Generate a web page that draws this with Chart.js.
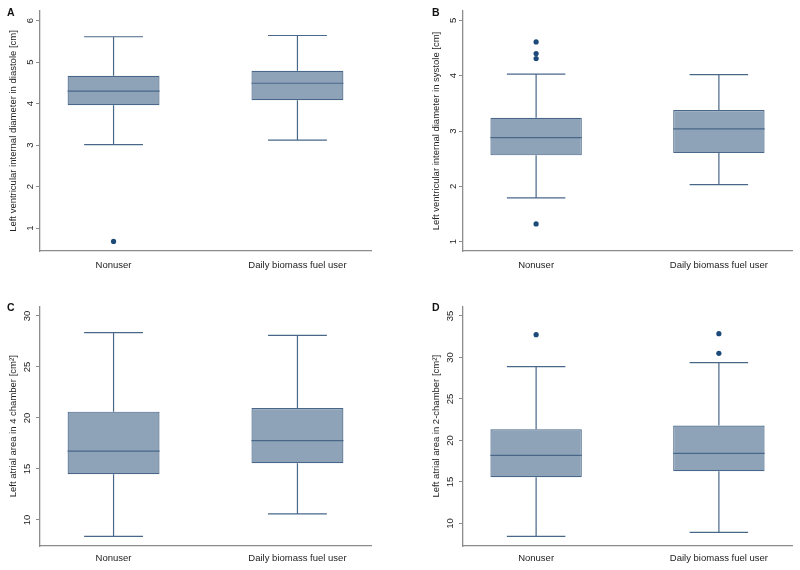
<!DOCTYPE html>
<html>
<head>
<meta charset="utf-8">
<script src="https://cdn.jsdelivr.net/npm/chart.js@4.4.1/dist/chart.umd.min.js"></script>
<style>
  body { margin: 0; background: #fff; }
  #wrap { position: relative; width: 800px; height: 570px; overflow: hidden; font-family: "Liberation Sans", Arial, sans-serif; }
  .panel { position: absolute; height: 285px; }
  .letter { position: absolute; font-weight: bold; font-size: 10.5px; line-height: 1; color: #111; }
</style>
</head>
<body>
<div id="wrap">
  <div class="panel" style="left:0;top:0;width:400px"><canvas id="chartA"></canvas></div>
  <div class="panel" style="left:423px;top:0;width:377px"><canvas id="chartB"></canvas></div>
  <div class="panel" style="left:0;top:285px;width:400px"><canvas id="chartC"></canvas></div>
  <div class="panel" style="left:423px;top:285px;width:377px"><canvas id="chartD"></canvas></div>
  <div class="letter" style="left:7px;top:7px">A</div>
  <div class="letter" style="left:432px;top:7px">B</div>
  <div class="letter" style="left:7px;top:302px">C</div>
  <div class="letter" style="left:432px;top:302px">D</div>
</div>
<script>
const categories = ['Nonuser', 'Daily biomass fuel user'];

// five-number summaries per group: [lower whisker, q1, median, q3, upper whisker]
const lviddNonuser = [3.01, 3.96, 4.30, 4.67, 5.61];
const lviddDaily = [3.12, 4.08, 4.49, 4.79, 5.64];
const lviddOutliers = [[0.68], []];
const lviddTicks = [1, 2, 3, 4, 5, 6];

const lvidsNonuser = [1.79, 2.56, 2.88, 3.24, 4.03];
const lvidsDaily = [2.03, 2.60, 3.04, 3.38, 4.02];
const lvidsOutliers = [[4.61, 4.40, 4.31, 1.32], []];
const lvidsTicks = [1, 2, 3, 4, 5];

const la4Nonuser = [8.4, 14.48, 16.76, 20.62, 28.37];
const la4Daily = [10.59, 15.56, 17.78, 20.98, 28.1];
const la4Outliers = [[], []];
const la4Ticks = [10, 15, 20, 25, 30];

const la2Nonuser = [8.45, 15.57, 18.21, 21.35, 28.9];
const la2Daily = [8.94, 16.29, 18.45, 21.8, 29.38];
const la2Outliers = [[32.75], [32.87, 30.5]];
const la2Ticks = [10, 15, 20, 25, 30, 35];

const boxFill = '#8ea3b8';
const boxLine = '#486789';
const dotColor = '#1d4a78';
const axisColor = '#8c8c8c';
const textColor = '#222';
const font = { family: '"Liberation Sans", Arial, sans-serif', size: 9.5 };

// whiskers under the box, median on top of it
const whiskerPlugin = {
    id: 'whiskers',
    beforeDatasetsDraw(chart) {
        const ds = chart.data.datasets[0];
        const meta = chart.getDatasetMeta(0);
        const y = chart.scales.y;
        const ctx = chart.ctx;
        ctx.save();
        ctx.strokeStyle = boxLine;
        ctx.lineWidth = 1.2;
        meta.data.forEach((bar, i) => {
            const s = ds.stats[i];
            const half = bar.width * 0.32;
            const yLo = y.getPixelForValue(s[0]);
            const yQ1 = y.getPixelForValue(s[1]);
            const yQ3 = y.getPixelForValue(s[3]);
            const yHi = y.getPixelForValue(s[4]);
            ctx.beginPath();
            ctx.moveTo(bar.x, yQ3); ctx.lineTo(bar.x, yHi);
            ctx.moveTo(bar.x, yQ1); ctx.lineTo(bar.x, yLo);
            ctx.moveTo(bar.x - half, yHi); ctx.lineTo(bar.x + half, yHi);
            ctx.moveTo(bar.x - half, yLo); ctx.lineTo(bar.x + half, yLo);
            ctx.stroke();
        });
        ctx.restore();
    },
    afterDatasetDraw(chart, args) {
        if (args.index !== 0) return;
        const ds = chart.data.datasets[0];
        const y = chart.scales.y;
        const ctx = chart.ctx;
        ctx.save();
        ctx.strokeStyle = boxLine;
        ctx.lineWidth = 1.2;
        args.meta.data.forEach((bar, i) => {
            const yMed = y.getPixelForValue(ds.stats[i][2]);
            ctx.beginPath();
            ctx.moveTo(bar.x - bar.width / 2, yMed);
            ctx.lineTo(bar.x + bar.width / 2, yMed);
            ctx.stroke();
        });
        ctx.restore();
    }
};

function makePanel(id, title, stats, outliers, ticks, yMin, yMax, lay) {
    new Chart(document.getElementById(id), {
        type: 'bar',
        data: {
            datasets: [{
                type: 'bar',
                data: stats.map((s, i) => ({ x: i + 1, y: [s[1], s[3]] })),
                stats: stats,
                backgroundColor: boxFill,
                borderColor: boxLine,
                borderWidth: 1.2,
                borderSkipped: false,
                categoryPercentage: 1,
                barPercentage: 0.5
            }, {
                type: 'scatter',
                data: outliers.flatMap((list, i) => list.map(v => ({ x: i + 1, y: v }))),
                pointRadius: 2.6,
                backgroundColor: dotColor,
                borderWidth: 0
            }]
        },
        options: {
            responsive: true,
            maintainAspectRatio: false,
            animation: false,
            layout: { padding: { top: lay.top, right: lay.right, left: 0, bottom: 0 } },
            plugins: { legend: { display: false }, tooltip: { enabled: false } },
            scales: {
                x: {
                    type: 'linear',
                    min: 0.6,
                    max: 2.4,
                    offset: false,
                    afterBuildTicks: s => { s.ticks = categories.map((c, i) => ({ value: i + 1 })); },
                    afterFit: s => { s.height = lay.xh; },
                    ticks: {
                        callback: v => categories[v - 1],
                        padding: lay.xpad,
                        font: font,
                        color: textColor,
                        maxRotation: 0,
                        autoSkip: false
                    },
                    grid: { display: false },
                    border: { display: true, color: axisColor, width: 1.3 }
                },
                y: {
                    min: yMin,
                    max: yMax,
                    afterBuildTicks: s => { s.ticks = ticks.map(v => ({ value: v })); },
                    afterFit: s => { s.width = 40; },
                    ticks: { minRotation: 90, maxRotation: 90, crossAlign: 'center', padding: 3, font: font, color: textColor },
                    grid: { display: true, drawOnChartArea: false, drawTicks: true, tickLength: 4, color: axisColor },
                    border: { display: true, color: axisColor, width: 1.3 },
                    title: { display: true, text: title, font: font, color: textColor, padding: { top: 8, bottom: 0 } }
                }
            }
        },
        plugins: [whiskerPlugin]
    });
}

const topLay = { top: 11, xh: 34, xpad: 1 };
const botLay = { top: 21.5, xh: 24, xpad: -1 };

makePanel('chartA', 'Left ventricular internal diameter in diastole [cm]',
    [lviddNonuser, lviddDaily], lviddOutliers, lviddTicks, 0.45, 6.23, { ...topLay, right: 29 });
makePanel('chartB', 'Left ventricular internal diameter in systole [cm]',
    [lvidsNonuser, lvidsDaily], lvidsOutliers, lvidsTicks, 0.83, 5.17, { ...topLay, right: 8 });
makePanel('chartC', 'Left atrial area in 4 chamber [cm\u00b2]',
    [la4Nonuser, la4Daily], la4Outliers, la4Ticks, 7.45, 30.93, { ...botLay, right: 29 });
makePanel('chartD', 'Left atrial area in 2-chamber [cm\u00b2]',
    [la2Nonuser, la2Daily], la2Outliers, la2Ticks, 7.29, 36.14, { ...botLay, right: 8 });
</script>
</body>
</html>
